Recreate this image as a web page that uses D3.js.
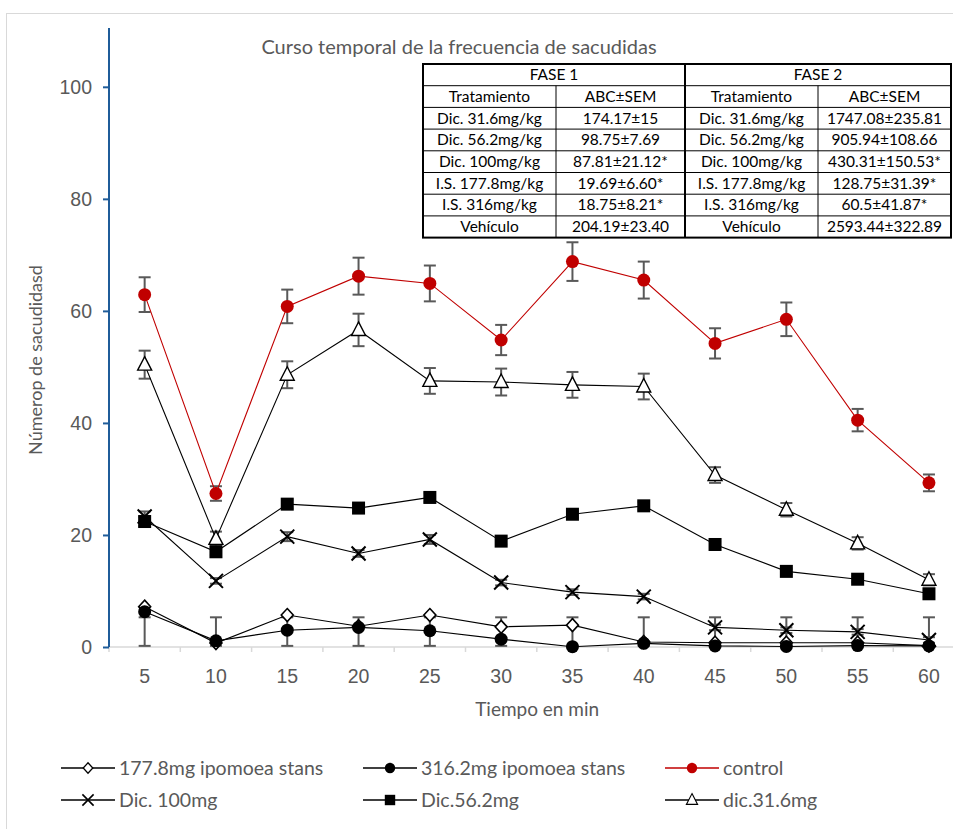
<!DOCTYPE html>
<html>
<head>
<meta charset="utf-8">
<script src="https://cdn.jsdelivr.net/npm/d3@7"></script>
<style>
  body { margin: 0; background: #fff; }
  svg { display: block; font-family: Lato, "Open Sans", sans-serif; }
</style>
</head>
<body>
<svg id="chart" width="953" height="829"></svg>
<script>
// time points (min)
const times = [5, 10, 15, 20, 25, 30, 35, 40, 45, 50, 55, 60];

// series means
const is177 = [7.2, 0.7, 5.7, 3.7, 5.7, 3.6, 3.9, 0.9, 0.75, 0.75, 0.75, 0.25];
const is316 = [6.3, 1.1, 3.0, 3.5, 2.9, 1.4, 0.05, 0.65, 0.2, 0.1, 0.25, 0.2];
const control = [62.9, 27.4, 60.8, 66.2, 64.9, 54.8, 68.8, 65.5, 54.2, 58.5, 40.5, 29.3];
const dic100 = [23.3, 11.8, 19.7, 16.7, 19.2, 11.5, 9.8, 9.0, 3.5, 3.0, 2.7, 1.25];
const dic56 = [22.4, 17.0, 25.5, 24.8, 26.7, 18.9, 23.7, 25.2, 18.3, 13.5, 12.1, 9.5];
const dic31 = [50.4, 19.3, 48.6, 56.6, 47.5, 47.3, 46.8, 46.5, 30.7, 24.5, 18.5, 12.0];

// error bars (SEM) per series
const controlErr = [3.1, 1.3, 3.0, 3.3, 3.2, 2.7, 3.45, 3.3, 2.7, 3.0, 2.0, 1.5];
const dic31Err = [2.5, 1.3, 2.4, 2.9, 2.3, 2.4, 2.3, 2.3, 1.4, 1.2, 1.1, 1.0];
const dic56Err = [0.8, 0.6, 0.8, 0.7, 0.8, 0.6, 0.6, 0.7, 0.5, 0.5, 0.5, 0.5];
const dic100Err = [0.9, 0.5, 0.8, 0.6, 0.8, 0.5, 0.5, 0.5, 0.5, 0.5, 0.5, 0.5];
// 316.2mg bars are drawn from a fixed low/high
const is316Low = [0.2, 0.2, 0.2, 0.2, 0.2, 0.2, 0.2, 0.2, 0.2, 0.2, 0.2, 0.2];
const is316High = [5.3, 5.3, 5.3, 5.3, 5.3, 5.3, 5.3, 5.3, 5.3, 5.3, 5.3, 5.3];

const yTicks = [0, 20, 40, 60, 80, 100];

// table
const tableHead = ["FASE 1", "FASE 2"];
const tableCols = ["Tratamiento", "ABC\u00B1SEM", "Tratamiento", "ABC\u00B1SEM"];
const treat1 = ["Dic. 31.6mg/kg", "Dic. 56.2mg/kg", "Dic. 100mg/kg", "I.S. 177.8mg/kg", "I.S. 316mg/kg", "Veh\u00EDculo"];
const abc1 = ["174.17\u00B115", "98.75\u00B17.69", "87.81\u00B121.12*", "19.69\u00B16.60*", "18.75\u00B18.21*", "204.19\u00B123.40"];
const treat2 = ["Dic. 31.6mg/kg", "Dic. 56.2mg/kg", "Dic. 100mg/kg", "I.S. 177.8mg/kg", "I.S. 316mg/kg", "Veh\u00EDculo"];
const abc2 = ["1747.08\u00B1235.81", "905.94\u00B1108.66", "430.31\u00B1150.53*", "128.75\u00B131.39*", "60.5\u00B141.87*", "2593.44\u00B1322.89"];

const grey = "#595959";
const red = "#C00000";

const svg = d3.select("#chart");

// chart frame (runs off the right/bottom edge like the original crop)
svg.append("rect")
  .attr("x", 6.5).attr("y", 13.5)
  .attr("width", 1000).attr("height", 900)
  .attr("fill", "none").attr("stroke", "#d9d9d9");

// scales
const x = d3.scaleBand().domain(times).range([109, 109 + 12 * 71.3]);
const cx = t => x(t) + x.bandwidth() / 2;
const y = d3.scaleLinear().domain([0, 110.5]).range([647, 28]);

// x axis: light grey line + ticks at band edges
const xg = svg.append("g").attr("transform", "translate(0,647)");
xg.append("line").attr("x1", 109).attr("x2", 970)
  .attr("stroke", "#d9d9d9").attr("stroke-width", 1.5);
xg.selectAll(".xt")
  .data(times)
  .join("line")
  .attr("x1", d => x(d)).attr("x2", d => x(d))
  .attr("y1", 0).attr("y2", 5)
  .attr("stroke", "#d9d9d9").attr("stroke-width", 1.5);
xg.call(d3.axisBottom(x).tickSize(0).tickPadding(22))
  .call(g => g.select(".domain").remove())
  .selectAll("text")
  .style("font-family", "inherit")
  .style("font-size", "19.5px")
  .attr("fill", grey);

// y axis
svg.append("g")
  .attr("transform", "translate(109,0)")
  .call(d3.axisLeft(y).tickValues(yTicks).tickSize(6).tickPadding(11))
  .call(g => g.select(".domain").attr("stroke", "#1f5c99").attr("stroke-width", 2).attr("d", `M0,${y(110.5)}V${y(0)}`))
  .call(g => g.selectAll(".tick line").attr("stroke", "#1f5c99").attr("stroke-width", 2))
  .selectAll("text")
  .style("font-family", "inherit")
  .style("font-size", "19.5px")
  .attr("fill", grey);

// axis titles
svg.append("text")
  .attr("x", cx(30) + 36).attr("y", 716)
  .attr("text-anchor", "middle")
  .style("font-size", "19px").attr("fill", grey)
  .text("Tiempo en min");

svg.append("text")
  .attr("transform", "rotate(-90)")
  .attr("x", -360).attr("y", 42)
  .attr("text-anchor", "middle")
  .style("font-size", "18px").attr("fill", grey)
  .text("N\u00FAmerop de sacudidasd");

// chart title
svg.append("text")
  .attr("x", 459).attr("y", 54)
  .attr("text-anchor", "middle")
  .style("font-size", "20px").attr("fill", grey)
  .text("Curso temporal de la frecuencia de sacudidas");

// marker helpers
const shapes = {
  diamond: (g, c) => g.append("path").attr("d", "M0,-6.5L6,0L0,6.5L-6,0Z").attr("fill", "#fff").attr("stroke", "#000").attr("stroke-width", 1.6),
  circle: (g, c) => g.append("circle").attr("r", 6.5).attr("fill", c),
  square: (g, c) => g.append("rect").attr("x", -6.5).attr("y", -6.5).attr("width", 13).attr("height", 13).attr("fill", "#000"),
  cross: (g, c) => g.append("path").attr("d", "M-7,-7L7,7M-7,7L7,-7").attr("stroke", "#000").attr("stroke-width", 2),
  triangle: (g, c) => g.append("path").attr("d", "M0,-8L7,5.5L-7,5.5Z").attr("fill", "#fff").attr("stroke", "#000").attr("stroke-width", 1.4)
};

const series = [
  { name: "dic.31.6mg", values: dic31, lo: dic31.map((v, i) => v - dic31Err[i]), hi: dic31.map((v, i) => v + dic31Err[i]), color: "#000", shape: "triangle" },
  { name: "177.8mg ipomoea stans", values: is177, lo: null, hi: null, color: "#000", shape: "diamond" },
  { name: "316.2mg ipomoea stans", values: is316, lo: is316Low, hi: is316High, color: "#000", shape: "circle" },
  { name: "control", values: control, lo: control.map((v, i) => v - controlErr[i]), hi: control.map((v, i) => v + controlErr[i]), color: red, shape: "circle" },
  { name: "Dic. 100mg", values: dic100, lo: dic100.map((v, i) => v - dic100Err[i]), hi: dic100.map((v, i) => v + dic100Err[i]), color: "#000", shape: "cross" },
  { name: "Dic.56.2mg", values: dic56, lo: dic56.map((v, i) => v - dic56Err[i]), hi: dic56.map((v, i) => v + dic56Err[i]), color: "#000", shape: "square" }
];

const line = d3.line().x((d, i) => cx(times[i])).y(d => y(d));

// error bars first
series.filter(s => s.lo).forEach(s => {
  const eg = svg.append("g").attr("stroke", grey).attr("stroke-width", 2);
  times.forEach((t, i) => {
    const px = cx(t);
    eg.append("line").attr("x1", px).attr("x2", px).attr("y1", y(s.lo[i])).attr("y2", y(s.hi[i]));
    eg.append("line").attr("x1", px - 6).attr("x2", px + 6).attr("y1", y(s.lo[i])).attr("y2", y(s.lo[i]));
    eg.append("line").attr("x1", px - 6).attr("x2", px + 6).attr("y1", y(s.hi[i])).attr("y2", y(s.hi[i]));
  });
});

// lines and markers
series.forEach(s => {
  svg.append("path")
    .datum(s.values)
    .attr("d", line)
    .attr("fill", "none")
    .attr("stroke", s.color)
    .attr("stroke-width", 1.1);
  s.values.forEach((v, i) => {
    const g = svg.append("g").attr("transform", `translate(${cx(times[i])},${y(v)})`);
    shapes[s.shape](g, s.color);
  });
});

// legend
const legendOrder = ["177.8mg ipomoea stans", "316.2mg ipomoea stans", "control", "Dic. 100mg", "Dic.56.2mg", "dic.31.6mg"];
const legendX = [61, 363, 665];
const legendY = [768, 800];
legendOrder.forEach((name, i) => {
  const s = series.find(d => d.name === name);
  const lx = legendX[i % 3], ly = legendY[Math.floor(i / 3)];
  const g = svg.append("g").attr("transform", `translate(${lx},${ly})`);
  g.append("line").attr("x1", 0).attr("x2", 54).attr("stroke", s.color).attr("stroke-width", 1.3);
  const m = g.append("g").attr("transform", "translate(27,0) scale(0.8)");
  shapes[s.shape](m, s.color);
  g.append("text").attr("x", 58).attr("dy", "0.35em")
    .style("font-size", "19.5px").attr("fill", grey)
    .text(name);
});

// table
const colX = [423, 556, 685, 818, 951];
const rowH = 21.7;
const tableTop = 64;
const tg = svg.append("g").style("font-size", "15.5px");
tg.append("rect").attr("x", colX[0]).attr("y", tableTop).attr("width", colX[4] - colX[0]).attr("height", rowH * 8)
  .attr("fill", "#fff").attr("stroke", "#000").attr("stroke-width", 2);
d3.range(1, 8).forEach(r => {
  tg.append("line").attr("x1", colX[0]).attr("x2", colX[4]).attr("y1", tableTop + r * rowH).attr("y2", tableTop + r * rowH)
    .attr("stroke", "#000").attr("stroke-width", 1);
});
[1, 3].forEach(c => {
  tg.append("line").attr("x1", colX[c]).attr("x2", colX[c]).attr("y1", tableTop + rowH).attr("y2", tableTop + rowH * 8)
    .attr("stroke", "#000").attr("stroke-width", 1);
});
tg.append("line").attr("x1", colX[2]).attr("x2", colX[2]).attr("y1", tableTop).attr("y2", tableTop + rowH * 8)
  .attr("stroke", "#000").attr("stroke-width", 2);

const cell = (txt, x0, x1, r) => tg.append("text")
  .attr("x", (x0 + x1) / 2).attr("y", tableTop + r * rowH + rowH / 2)
  .attr("dy", "0.35em").attr("text-anchor", "middle").attr("fill", "#000")
  .text(txt);

cell(tableHead[0], colX[0], colX[2], 0);
cell(tableHead[1], colX[2], colX[4], 0);
tableCols.forEach((c, i) => cell(c, colX[i], colX[i + 1], 1));
treat1.forEach((t, i) => {
  cell(t, colX[0], colX[1], i + 2);
  cell(abc1[i], colX[1], colX[2], i + 2);
  cell(treat2[i], colX[2], colX[3], i + 2);
  cell(abc2[i], colX[3], colX[4], i + 2);
});
</script>
</body>
</html>
